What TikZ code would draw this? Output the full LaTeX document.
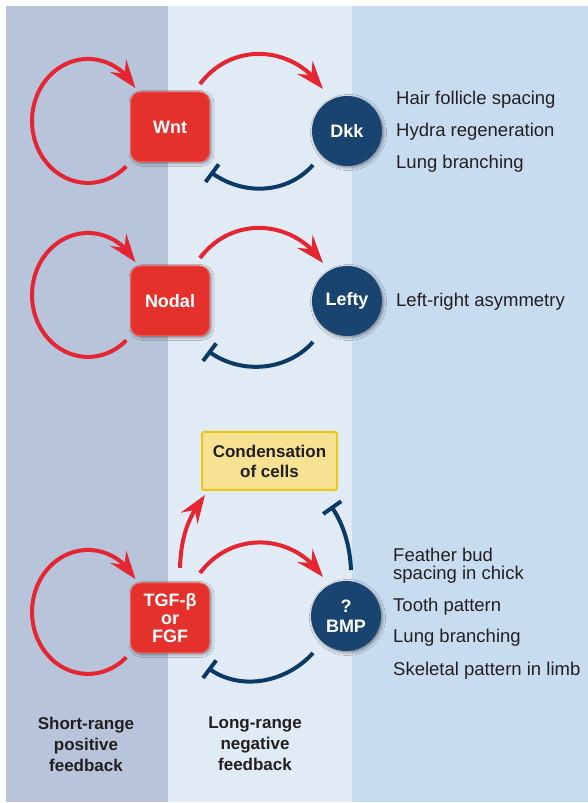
\documentclass[tikz,border=0pt]{standalone}
\usepackage{fontspec}
\setmainfont{Liberation Sans}
\usetikzlibrary{arrows.meta,bending,calc,shadows.blur}
\definecolor{bandL}{RGB}{183,196,218}
\definecolor{bandM}{RGB}{225,235,246}
\definecolor{bandR}{RGB}{200,220,240}
\definecolor{nodered}{RGB}{228,49,44}
\definecolor{noderim}{RGB}{236,96,92}
\definecolor{arrred}{RGB}{229,37,50}
\definecolor{navy}{RGB}{26,68,112}
\definecolor{inhib}{RGB}{12,58,102}
\definecolor{condfill}{RGB}{246,226,146}
\definecolor{condline}{RGB}{240,200,20}
\definecolor{txt}{RGB}{35,31,32}
\begin{document}
\begin{tikzpicture}[x=1pt,y=1pt,
  actbox/.style={fill=nodered, draw=noderim, line width=1pt, rounded corners=10pt, minimum width=79pt, minimum height=70pt,
    text=white, font=\fontsize{18}{18}\selectfont\bfseries, align=center, inner sep=0pt,
    blur shadow={shadow xshift=1.5pt, shadow yshift=-1.5pt, shadow blur radius=3pt, shadow opacity=45}},
  inhcirc/.style={circle, fill=navy, minimum size=70pt, inner sep=0pt,
    text=white, font=\fontsize{18}{20}\selectfont\bfseries, align=center,
    blur shadow={shadow xshift=1.5pt, shadow yshift=-1.5pt, shadow blur radius=3pt, shadow opacity=45}},
  condbox/.style={draw=condline, line width=2pt, fill=condfill, rounded corners=2pt,
    minimum width=135pt, minimum height=58pt, inner sep=0pt, align=center,
    text=txt, font=\fontsize{17}{20}\selectfont\bfseries},
  actarrow/.style={draw=arrred, line width=4pt, -{Stealth[length=28pt,width=20pt,inset=10pt]}},
  inharrow/.style={draw=inhib, line width=4pt, -{Bar[width=22pt]}},
  listtext/.style={anchor=base west, font=\fontsize{18.5}{21}\selectfont, text=txt, inner sep=0pt},
  bottomlbl/.style={anchor=north, align=center, font=\fontsize{17}{21}\selectfont\bfseries, text=txt, inner sep=0pt}
]
\useasboundingbox (0,0) rectangle (588,803);
\fill[white] (0,0) rectangle (588,803);
\fill[bandL] (6,1) rectangle (168,797);
\fill[bandM] (168,1) rectangle (352,797);
\fill[bandR] (352,1) rectangle (588,797);

% nodes
\node[actbox] (wnt) at (170,676) {Wnt};
\node[actbox] (nodal) at (170,502) {Nodal};
\node[actbox] (tgf) at (170,185) {TGF-β\\or\\FGF};
\node[inhcirc] (dkk) at (347,672) {Dkk};
\node[inhcirc] (lefty) at (347,502) {Lefty};
\node[inhcirc] (bmp) at (346,187) {?\\BMP};
\node[condbox] (cond) at (269.5,342) {Condensation\\of cells};

% self loops (short-range positive feedback)
\foreach \n in {wnt,nodal,tgf}{
  \draw[actarrow] ($(\n)+(-43.8,-39.3)$) arc[start angle=-47,end angle=-328,x radius=56,y radius=62];
}

% row 1
\draw[actarrow] ($(wnt)+(30,43)$) .. controls +(32,42.6) and +(-29.8,44.1) .. ($(dkk)+(-24,42)$);
\draw[inharrow] ($(dkk)+(-34,-34)$) .. controls +(-26.6,-29.6) and +(31.9,-23.9) .. ($(wnt)+(40.5,-45)$);
% row 2
\draw[actarrow] ($(nodal)+(30,43)$) .. controls +(32,42.6) and +(-29.8,44.1) .. ($(lefty)+(-24,38)$);
\draw[inharrow] ($(lefty)+(-34,-41)$) .. controls +(-26.6,-29.6) and +(31.9,-23.9) .. ($(nodal)+(38,-50)$);
% row 3
\draw[actarrow] ($(tgf)+(30,45)$) .. controls +(32,42.6) and +(-29.8,44.1) .. ($(bmp)+(-23,39)$);
\draw[inharrow] ($(bmp)+(-33,-37)$) .. controls +(-26.6,-29.6) and +(31.9,-23.9) .. ($(tgf)+(38,-50)$);
\draw[actarrow] ($(tgf)+(10,50)$) .. controls +(1,33) and +(-16,-21) .. ($(cond.south west)+(4,-4)$);
\draw[inharrow] ($(bmp)+(5,46)$) .. controls +(-1,25) and +(12,-17) .. ($(cond.south east)+(-7,-15)$);

% lists
\node[listtext] (h1) at (396,698) {Hair follicle spacing};
\node[listtext] (h2) at (396,666) {Hydra regeneration};
\node[listtext] (h3) at (396,634) {Lung branching};
\node[listtext] (lr) at (396,496) {Left-right asymmetry};
\node[listtext] (b1) at (393,241) {Feather bud};
\node[listtext] (b2) at (393,223) {spacing in chick};
\node[listtext] (b3) at (393,191) {Tooth pattern};
\node[listtext] (b4) at (393,160) {Lung branching};
\node[listtext] (b5) at (393,127) {Skeletal pattern in limb};

% bottom labels
\node[bottomlbl] (sr) at (86,86) {Short-range\\positive\\feedback};
\node[bottomlbl] (lrg) at (255,86) {Long-range\\negative\\feedback};
\end{tikzpicture}
\end{document}
